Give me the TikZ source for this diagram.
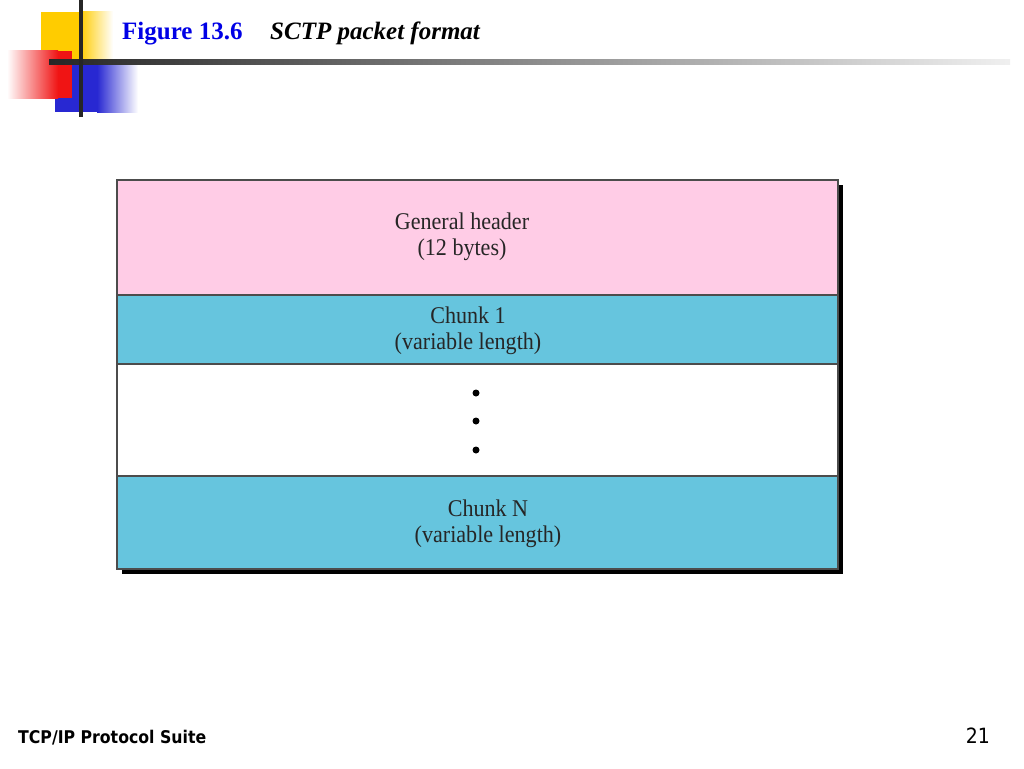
\documentclass[tikz,border=0pt]{standalone}
\usepackage{fontspec}
\setmainfont{Liberation Serif}
\newfontfamily\boxfont[FakeStretch=0.92]{Liberation Serif}
\newfontfamily\footfont{DejaVu Sans Condensed}
\usetikzlibrary{shadings}
\definecolor{hdrpink}{RGB}{255,204,230}
\definecolor{chunkblue}{RGB}{102,197,222}
\definecolor{titleblue}{RGB}{0,0,230}
\definecolor{sqyellow}{RGB}{255,204,0}
\definecolor{sqred}{RGB}{240,20,20}
\definecolor{sqblue}{RGB}{40,40,210}
\tikzset{
  field/.style={draw=black!70, line width=1.2pt},
  boxtext/.style={font=\boxfont\fontsize{24}{26}\selectfont, align=center, text=black!85},
  dotmark/.style={circle, fill=black, inner sep=0pt, minimum size=7pt},
}
\begin{document}
\begin{tikzpicture}[x=1pt,y=-1pt]
\useasboundingbox (0,0) rectangle (1024,768);
\fill[white] (0,0) rectangle (1024,768);
% decorative squares
\fill[sqyellow] (41,12) rectangle (80,61);
\shade[left color=sqyellow, right color=white] (80,12) rectangle (113,61);
\fill[sqblue] (55,62) rectangle (97,112);
\shade[left color=sqblue, right color=white] (97,62) rectangle (138,112);
\shade[left color=white, right color=sqred] (7,51) rectangle (58,98);
\fill[sqred] (58,51) rectangle (72,98);
% lines
\shade[left color=black!85, right color=black!6] (49,59) rectangle (1010,64);
\draw[line width=4pt, black!85] (80.5,0) -- (80.5,117);
% title
\node[anchor=base west, text=titleblue, font=\fontsize{25}{28}\selectfont\bfseries, inner sep=0pt] (title) at (122,40) {Figure 13.6};
\node[anchor=base west, font=\fontsize{25}{28}\selectfont\bfseries\itshape, inner sep=0pt] (subtitle) at (270,40) {SCTP packet format};
% shadow
\fill[black] (122,185) rectangle (843,574);
% fields
\path[field, fill=hdrpink] (117,180) rectangle (838,295);
\path[field, fill=chunkblue] (117,295) rectangle (838,364);
\path[field, fill=white] (117,364) rectangle (838,476);
\path[field, fill=chunkblue] (117,476) rectangle (838,569);
\node[boxtext] (hdr) at (462,237) {General header\\(12 bytes)};
\node[boxtext] (c1) at (468,331) {Chunk 1\\(variable length)};
\node[dotmark] (d1) at (476,393) {};
\node[dotmark] (d2) at (476,421) {};
\node[dotmark] (d3) at (476,450) {};
\node[boxtext] (cn) at (488,524) {Chunk N\\(variable length)};
% footer
\node[anchor=base west, inner sep=0pt, font=\footfont\fontsize{17.5}{20}\selectfont\bfseries] (foot) at (18,743) {TCP/IP Protocol Suite};
\node[anchor=base east, inner sep=0pt, font=\footfont\fontsize{21}{24}\selectfont] (page) at (990,743) {21};
\end{tikzpicture}
\end{document}
